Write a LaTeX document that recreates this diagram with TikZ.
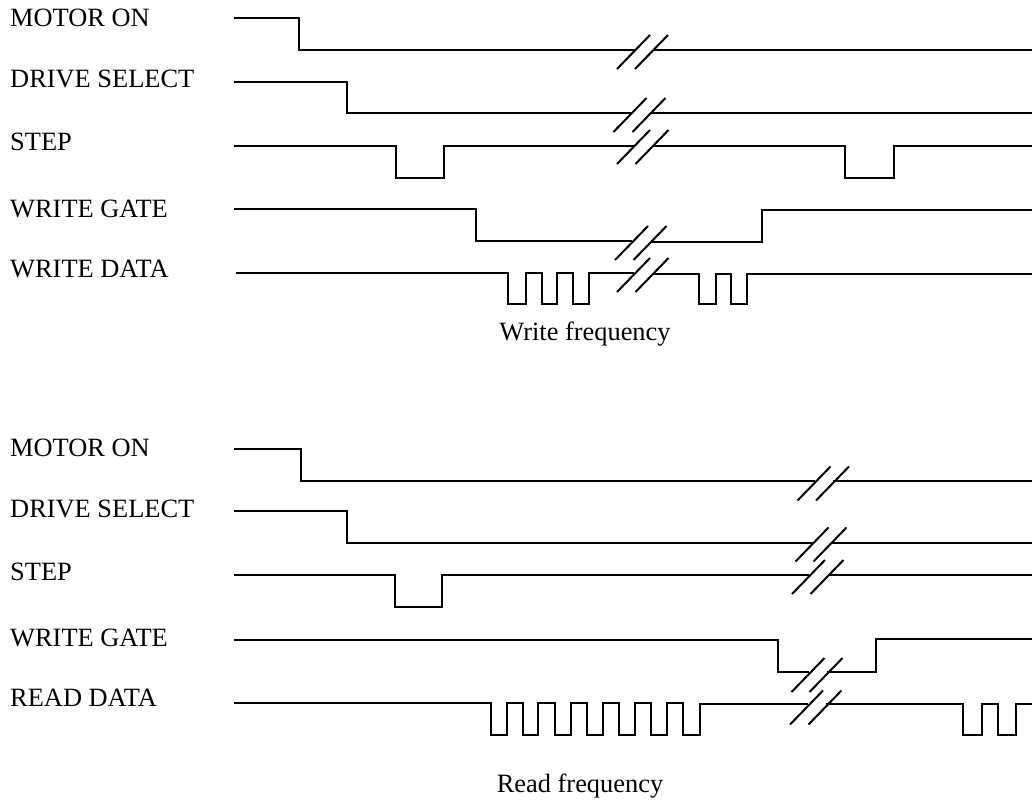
\documentclass[tikz,border=0pt]{standalone}
\usepackage{fontspec}
\setmainfont{Liberation Serif}
\tikzset{
  sig/.style={line width=2.8pt, line join=miter},
  slash/.style={line width=2pt},
  lbl/.style={anchor=base west, inner sep=0pt, font=\fontsize{26.4}{30}\selectfont},
  captext/.style={anchor=base, inner sep=0pt, font=\fontsize{26.4}{30}\selectfont}
}
\newcommand{\brkmark}[3]{% x1 x2 y : slash midpoints
  \draw[slash] (#1-16.5,#3+17) -- (#1+16.5,#3-17);
  \draw[slash] (#2-16.5,#3+17) -- (#2+16.5,#3-17);
}
\begin{document}
\begin{tikzpicture}[x=1pt,y=-1pt]
\useasboundingbox (0,0) rectangle (1032,804);
\fill[white] (0,0) rectangle (1032,804);

% ---------- Top (write) ----------
\node[lbl] (t1) at (10,26.7) {MOTOR ON};
\node[lbl] (t2) at (10,87.3) {DRIVE SELECT};
\node[lbl] (t3) at (10,150.7) {STEP};
\node[lbl] (t4) at (10,217) {WRITE GATE};
\node[lbl] (t5) at (10,277) {WRITE DATA};
\node[captext] (wf) at (585,340) {Write frequency};

\draw[sig] (234,18)--(299,18)--(299,50)--(635,50);
\draw[sig] (653,50)--(1032,50);
\brkmark{633.5}{651.5}{52}

\draw[sig] (234,82)--(347,82)--(347,113)--(631,113);
\draw[sig] (650,113)--(1032,113);
\brkmark{630}{649}{115}

\draw[sig] (234,146)--(396,146)--(396,178)--(444,178)--(444,146)--(634,146);
\draw[sig] (653,146)--(845,146)--(845,178)--(894,178)--(894,146)--(1032,146);
\brkmark{633.5}{652}{147}

\draw[sig] (234,209)--(476,209)--(476,241)--(632,241);
\draw[sig] (651,242)--(762,242)--(762,210)--(1032,210);
\brkmark{631.5}{650}{243}

\draw[sig] (236,273)--(508,273)--(508,304)--(526,304)--(526,273)--(542,273)--(542,304)--(557,304)--(557,273)--(573,273)--(573,304)--(589,304)--(589,273)--(634,273);
\draw[sig] (653,274)--(699,274)--(699,304)--(716,304)--(716,274)--(731,274)--(731,304)--(747,304)--(747,274)--(1032,274);
\brkmark{633.5}{652}{275}

% ---------- Bottom (read) ----------
\node[lbl] (b1) at (10,456.7) {MOTOR ON};
\node[lbl] (b2) at (10,517) {DRIVE SELECT};
\node[lbl] (b3) at (10,580.7) {STEP};
\node[lbl] (b4) at (10,646.7) {WRITE GATE};
\node[lbl] (b5) at (10,706) {READ DATA};
\node[captext] (rf) at (580,792.5) {Read frequency};

\draw[sig] (234,449)--(301,449)--(301,481)--(815,481);
\draw[sig] (833,481)--(1032,481);
\brkmark{814}{832.5}{483.5}

\draw[sig] (234,511)--(347,511)--(347,543)--(813,543);
\draw[sig] (831,543)--(1032,543);
\brkmark{812}{830}{544.5}

\draw[sig] (234,575)--(395,575)--(395,607)--(442,607)--(442,575)--(809,575);
\draw[sig] (828,575)--(1032,575);
\brkmark{808.5}{827}{577}

\draw[sig] (234,640)--(778,640)--(778,672)--(809,672);
\draw[sig] (827,672)--(876,672)--(876,639)--(1032,639);
\brkmark{808}{826}{675}

\draw[sig] (234,703)--(491,703)
  --(491,735)--(507,735)--(507,703)--(523,703)
  --(523,735)--(538,735)--(538,703)--(555,703)
  --(555,735)--(571,735)--(571,703)--(587,703)
  --(587,735)--(603,735)--(603,703)--(619,703)
  --(619,735)--(635,735)--(635,703)--(651,703)
  --(651,735)--(667,735)--(667,703)--(683,703)
  --(683,735)--(700,735)--(700,704)--(808,704);
\draw[sig] (826,704)--(963,704)--(963,735)--(982,735)--(982,704)--(998,704)--(998,735)--(1016,735)--(1016,704)--(1032,704);
\brkmark{806.5}{825}{707.5}

\end{tikzpicture}
\end{document}
